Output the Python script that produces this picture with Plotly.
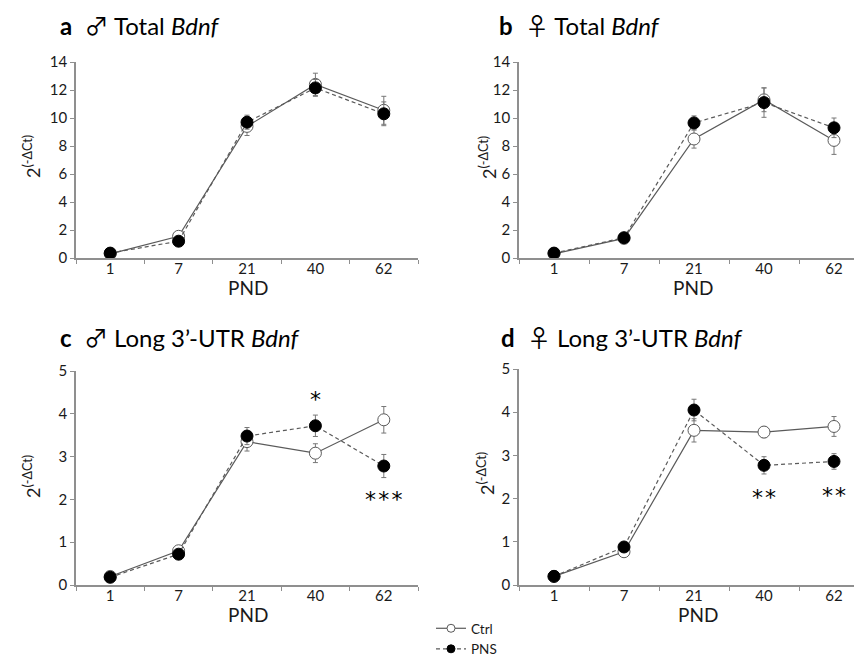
import plotly.graph_objects as go

# ---------------- data ----------------
pnd = ["1", "7", "21", "40", "62"]

a_ctrl = [0.30, 1.55, 9.40, 12.40, 10.55]
a_ctrl_err = [0.10, 0.20, 0.65, 0.80, 1.00]
a_pns = [0.35, 1.20, 9.70, 12.15, 10.30]
a_pns_err = [0.10, 0.15, 0.50, 0.60, 0.85]

b_ctrl = [0.30, 1.40, 8.50, 11.30, 8.40]
b_ctrl_err = [0.10, 0.15, 0.65, 0.85, 1.00]
b_pns = [0.35, 1.45, 9.65, 11.10, 9.30]
b_pns_err = [0.10, 0.15, 0.50, 1.05, 0.70]

c_ctrl = [0.20, 0.80, 3.35, 3.08, 3.86]
c_ctrl_err = [0.03, 0.05, 0.22, 0.22, 0.31]
c_pns = [0.18, 0.72, 3.48, 3.72, 2.78]
c_pns_err = [0.03, 0.05, 0.20, 0.25, 0.27]

d_ctrl = [0.20, 0.77, 3.58, 3.54, 3.67]
d_ctrl_err = [0.03, 0.05, 0.27, 0.13, 0.23]
d_pns = [0.20, 0.88, 4.05, 2.77, 2.86]
d_pns_err = [0.03, 0.05, 0.25, 0.20, 0.18]

HS = "\u200a"
c_sig_pos = ["40", "62"]
c_sig_y = [4.29, 1.95]
c_sig_txt = ["*", "*" + HS + "*" + HS + "*"]
d_sig_pos = ["40", "62"]
d_sig_y = [1.98, 2.03]
d_sig_txt = ["*" + HS + "*", "*" + HS + "*"]

NB = "\u00a0"
def sym(s):
    return ('<span style="font-size:24px;font-family:\'Noto Sans CJK JP\'">'
            + s + "</span>")

titles = [
    "<b>a</b>" + NB * 2 + sym("♂") + NB + "Total <i>Bdnf</i>",
    "<b>b</b>" + NB * 2 + sym("♀") + NB + "Total <i>Bdnf</i>",
    "<b>c</b>" + NB * 2 + sym("♂") + NB + "Long 3’-UTR <i>Bdnf</i>",
    "<b>d</b>" + NB * 2 + sym("♀") + NB + "Long 3’-UTR <i>Bdnf</i>",
]

# ---------------- styling ----------------
OFF = 8                       # page body margin of the browser
W, H = 862 - OFF, 657 - OFF   # figure size so that the figure ends at the window edge
FONT = "Lato, 'Open Sans', sans-serif"
LINE_C = "#5a5a5a"
AXIS_C = "#8f8f8f"
TXT_C = "#1a1a1a"

def px(x):
    return max(0.0, min(1.0, (x - OFF) / W))

def py(y):
    return 1 - (y - OFF) / H

panels = [
    # (xaxis, yaxis, xdomain px, ydomain px (bottom, top), yrange, dtick, xrange)
    ("x", "y", (76, 418), (258, 62), [0, 14], 2, [-0.5, 4.5]),
    ("x2", "y2", (519, 862), (258, 62), [0, 14], 2, [-0.5, 4.4]),
    ("x3", "y3", (76, 418), (585, 371), [0, 5], 1, [-0.5, 4.5]),
    ("x4", "y4", (519, 862), (585, 369), [0, 5], 1, [-0.5, 4.4]),
]

data_sets = [
    (a_ctrl, a_ctrl_err, a_pns, a_pns_err),
    (b_ctrl, b_ctrl_err, b_pns, b_pns_err),
    (c_ctrl, c_ctrl_err, c_pns, c_pns_err),
    (d_ctrl, d_ctrl_err, d_pns, d_pns_err),
]

fig = go.Figure()

for i, ((xa, ya, xd, yd, yr, dt, xr), (ctrl, ctrl_e, pns, pns_e)) in enumerate(zip(panels, data_sets)):
    fig.add_trace(go.Scatter(
        x=pnd, y=ctrl, xaxis=xa, yaxis=ya, name="Ctrl",
        mode="lines+markers", showlegend=False,
        line=dict(color=LINE_C, width=1.2),
        marker=dict(symbol="circle", size=12, color="white",
                    line=dict(color=LINE_C, width=1)),
        error_y=dict(type="data", array=ctrl_e, visible=True,
                     color="#777777", thickness=1, width=2.5),
    ))
    fig.add_trace(go.Scatter(
        x=pnd, y=pns, xaxis=xa, yaxis=ya, name="PNS",
        mode="lines+markers", showlegend=False,
        line=dict(color=LINE_C, width=1.2, dash="4px,3px"),
        marker=dict(symbol="circle", size=12, color="black",
                    line=dict(color="black", width=1)),
        error_y=dict(type="data", array=pns_e, visible=True,
                     color="#777777", thickness=1, width=2.5),
    ))

# significance stars
STAR_FONT = dict(size=22, color="black", family="DejaVu Sans")
fig.add_trace(go.Scatter(x=c_sig_pos, y=c_sig_y, text=c_sig_txt, mode="text",
                         xaxis="x3", yaxis="y3", showlegend=False, hoverinfo="skip",
                         textfont=STAR_FONT))
fig.add_trace(go.Scatter(x=d_sig_pos, y=d_sig_y, text=d_sig_txt, mode="text",
                         xaxis="x4", yaxis="y4", showlegend=False, hoverinfo="skip",
                         textfont=STAR_FONT))

# legend entries (smaller markers, as in the reference key)
fig.add_trace(go.Scatter(x=[None], y=[None], name="Ctrl", mode="lines+markers",
                         line=dict(color=LINE_C, width=1.2),
                         marker=dict(size=8, color="white", line=dict(color=LINE_C, width=1))))
fig.add_trace(go.Scatter(x=[None], y=[None], name="PNS", mode="lines+markers",
                         line=dict(color=LINE_C, width=1.2, dash="4px,3px"),
                         marker=dict(size=8, color="black", line=dict(color="black", width=1))))

layout = dict(
    width=W, height=H,
    margin=dict(l=0, r=0, t=0, b=0, autoexpand=False),
    paper_bgcolor="white", plot_bgcolor="white",
    font=dict(family=FONT, color=TXT_C, size=14),
    showlegend=True,
    legend=dict(x=px(431), y=py(665), xanchor="left", yanchor="bottom",
                bgcolor="rgba(0,0,0,0)", font=dict(size=13.5, family=FONT),
                tracegroupgap=0, itemwidth=30, borderwidth=0),
)

annotations = []
for i, (xa, ya, xd, yd, yr, dt, xr) in enumerate(panels):
    xkey = "xaxis" + xa[1:]
    ykey = "yaxis" + ya[1:]
    layout[xkey] = dict(
        domain=[px(xd[0]), px(xd[1])], anchor=ya, type="category",
        range=xr, showline=True, linecolor=AXIS_C, linewidth=1.5,
        ticks="outside", tickson="boundaries", ticklen=4, tickcolor=AXIS_C,
        tickfont=dict(size=15), ticklabelstandoff=-4,
        showgrid=False, zeroline=False,
    )
    layout[ykey] = dict(
        domain=[py(yd[0]), py(yd[1])], anchor=xa, range=yr, dtick=dt,
        showline=True, linecolor=AXIS_C, linewidth=1.5,
        ticks="outside", ticklen=4, tickcolor=AXIS_C,
        tickfont=dict(size=15), showgrid=False, zeroline=False,
    )
    tx = [58, 497, 58, 499][i]
    ty = [24, 24, 336, 336][i]
    annotations.append(dict(text=titles[i], xref="paper", yref="paper",
                            x=px(tx), y=py(ty), xanchor="left", yanchor="middle",
                            showarrow=False, font=dict(size=24, color="black")))
    xt_x = [248, 693, 248, 698][i]
    xt_y = [287, 287, 614, 614][i]
    annotations.append(dict(text="PND", xref="paper", yref="paper",
                            x=px(xt_x), y=py(xt_y), xanchor="center", yanchor="middle",
                            showarrow=False, font=dict(size=19)))
    yt_x = [32, 488, 32, 486][i]
    yt_y = [157, 157, 477, 473][i]
    annotations.append(dict(text="2<sup>(-ΔCt)</sup>", xref="paper", yref="paper",
                            x=px(yt_x), y=py(yt_y), xanchor="center", yanchor="middle",
                            textangle=-90, showarrow=False, font=dict(size=18)))

layout["annotations"] = annotations
fig.update_layout(**layout)

fig.write_html("out.html")
